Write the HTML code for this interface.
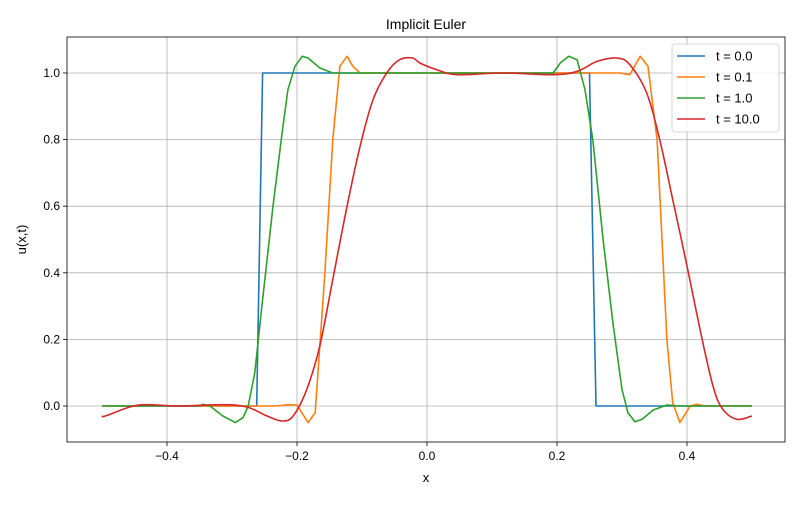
<!DOCTYPE html>
<html><head><meta charset="utf-8"><style>
body{margin:0;background:#fff;font-family:"Liberation Sans","DejaVu Sans",sans-serif}
</style></head><body>
<svg id="chart" width="800" height="500" xmlns="http://www.w3.org/2000/svg" font-family="Liberation Sans, DejaVu Sans, sans-serif">
<rect width="800" height="500" fill="#fff"/>
<g id="grid"></g><g id="series"></g><g id="axes"></g>
</svg>
<script>
const xTicks=[-0.4,-0.2,0.0,0.2,0.4];
const yTicks=[0.0,0.2,0.4,0.6,0.8,1.0];
const seriesLabels=["t = 0.0","t = 0.1","t = 1.0","t = 10.0"];
const seriesColors=["#1f77b4","#ff7f0e","#2ca02c","#d62728"];
const x0=[-0.5,-0.262,-0.253,0.25,0.26,0.5];
const y0=[0,0,1,1,0,0];
const x1=[-0.5,-0.23,-0.215,-0.2,-0.183,-0.172,-0.157,-0.145,-0.134,-0.123,-0.114,-0.103,0.297,0.312,0.328,0.34,0.354,0.369,0.378,0.389,0.405,0.415,0.428,0.5];
const y1=[0,0,0.004,0.003,-0.05,-0.02,0.4,0.8,1.02,1.05,1.02,1.0,1.0,0.995,1.05,1.02,0.8,0.2,0.01,-0.05,0,0.005,0,0];
const x2=[-0.5,-0.349,-0.345,-0.334,-0.314,-0.295,-0.283,-0.275,-0.265,-0.254,-0.237,-0.223,-0.214,-0.203,-0.192,-0.183,-0.165,-0.145,0.194,0.205,0.218,0.231,0.243,0.255,0.271,0.286,0.3,0.309,0.32,0.331,0.348,0.369,0.389,0.5];
const y2=[0,0,0.005,0,-0.03,-0.05,-0.035,0,0.1,0.3,0.6,0.82,0.95,1.02,1.05,1.045,1.015,1.0,1.0,1.03,1.05,1.04,0.95,0.8,0.5,0.25,0.05,-0.02,-0.047,-0.04,-0.012,0.003,0,0];
const x3=[-0.5,-0.495,-0.457,-0.431,-0.38,-0.314,-0.277,-0.246,-0.223,-0.206,-0.185,-0.165,-0.145,-0.123,-0.103,-0.083,-0.062,-0.042,-0.022,-0.011,0.015,0.046,0.117,0.194,0.231,0.262,0.292,0.312,0.338,0.358,0.378,0.4,0.42,0.44,0.455,0.477,0.5];
const y3=[-0.03,-0.03,-0.003,0.004,0,0.004,-0.003,-0.03,-0.045,-0.03,0.05,0.18,0.38,0.6,0.78,0.92,1.0,1.04,1.045,1.03,1.01,0.995,1.0,0.995,1.005,1.035,1.045,1.025,0.94,0.8,0.62,0.42,0.23,0.06,-0.01,-0.04,-0.03];
const xs=[x0,x1,x2,x3], ys=[y0,y1,y2,y3];
const smooth=[false,false,false,true];

const L=67,R=785,T=37,B=442;
const X=v=>427+v*650;
const Y=v=>406-v*333;
const NS="http://www.w3.org/2000/svg";
function mk(tag,attrs,parent){const e=document.createElementNS(NS,tag);for(const k in attrs)e.setAttribute(k,attrs[k]);parent.appendChild(e);return e;}
function pathFor(P,sm){
 let d='M'+P[0][0].toFixed(1)+','+P[0][1].toFixed(1);
 for(let i=0;i<P.length-1;i++){
  if(!sm){d+=' L'+P[i+1][0].toFixed(1)+','+P[i+1][1].toFixed(1);continue;}
  const p0=P[Math.max(0,i-1)],p1=P[i],p2=P[i+1],p3=P[Math.min(P.length-1,i+2)];
  const c1=[p1[0]+(p2[0]-p0[0])/6,p1[1]+(p2[1]-p0[1])/6];
  const c2=[p2[0]-(p3[0]-p1[0])/6,p2[1]-(p3[1]-p1[1])/6];
  d+=' C'+c1[0].toFixed(1)+','+c1[1].toFixed(1)+' '+c2[0].toFixed(1)+','+c2[1].toFixed(1)+' '+p2[0].toFixed(1)+','+p2[1].toFixed(1);
 }
 return d;
}
const grid=document.getElementById('grid'),ser=document.getElementById('series'),ax=document.getElementById('axes');
xTicks.forEach(t=>{
 const g=mk('line',{x1:X(t),x2:X(t),y1:T,y2:B,stroke:'#b0b0b0','stroke-width':0.8},grid);
 
 
 const tk=mk('line',{x1:X(t),x2:X(t),y1:B,y2:B+4,stroke:'#000','stroke-width':0.8},ax);
 
 
 const lb=mk('text',{x:X(t),y:B+18,'text-anchor':'middle','font-size':12,fill:'#000'},ax);
 lb.textContent=(t<0?'\u2212':'')+Math.abs(t).toFixed(1);
 
 
});
yTicks.forEach(t=>{
 const g=mk('line',{x1:L,x2:R,y1:Y(t),y2:Y(t),stroke:'#b0b0b0','stroke-width':0.8},grid);
 
 
 const tk=mk('line',{x1:L-4,x2:L,y1:Y(t),y2:Y(t),stroke:'#000','stroke-width':0.8},ax);
 
 
 const lb=mk('text',{x:L-7,y:Y(t)+4,'text-anchor':'end','font-size':12,fill:'#000'},ax);
 lb.textContent=t.toFixed(1);
 
 
});
xs.forEach((xa,i)=>{
 const P=xa.map((v,j)=>[X(v),Y(ys[i][j])]);
 const p=mk('path',{d:pathFor(P,smooth[i]),fill:'none',stroke:seriesColors[i],'stroke-width':1.6,'stroke-linejoin':'round'},ser);
 
 
});
const frame=mk('rect',{x:L,y:T,width:R-L,height:B-T,fill:'none',stroke:'#000','stroke-width':0.8},ax);


const title=mk('text',{x:(L+R)/2,y:29,'text-anchor':'middle','font-size':14,fill:'#000'},ax);
title.textContent='Implicit Euler';


const xl=mk('text',{x:(L+R)/2,y:482,'text-anchor':'middle','font-size':13,fill:'#000'},ax);
xl.textContent='x';


const yl=mk('text',{x:0,y:0,'text-anchor':'middle','font-size':13,fill:'#000',transform:'translate(26,'+((T+B)/2)+') rotate(-90)'},ax);
yl.textContent='u(x,t)';


const lg=mk('g',{},ax);


const lb=mk('rect',{x:672,y:44,width:107,height:88,rx:3,fill:'#fff','fill-opacity':0.8,stroke:'#ccc','stroke-width':0.8},lg);


seriesLabels.forEach((s,i)=>{
 const yy=56+i*21;
 const ln=mk('line',{x1:677,x2:705,y1:yy,y2:yy,stroke:seriesColors[i],'stroke-width':1.6},lg);
 
 
 const tx=mk('text',{x:716,y:yy+4.5,'font-size':13,fill:'#000'},lg);
 tx.textContent=s;
 
 
});
</script>
</body></html>
